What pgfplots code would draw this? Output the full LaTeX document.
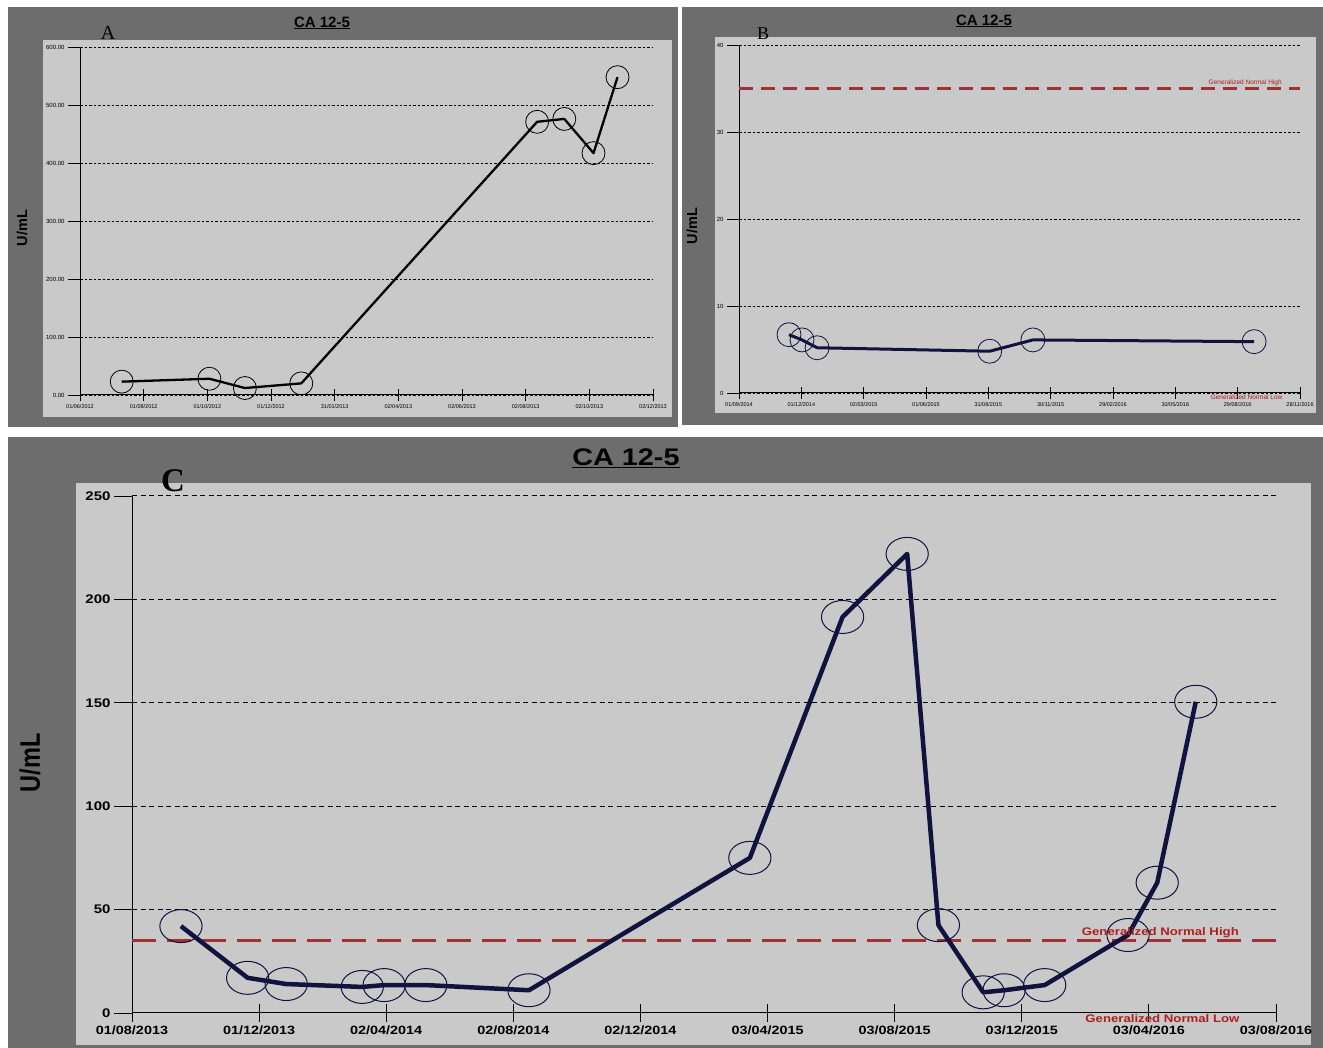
\documentclass[border=0pt]{standalone}
\usepackage{pgfplots}
\pgfplotsset{compat=1.18}
\usepackage{fontspec}
\setmainfont{Liberation Sans}
\newfontfamily\letterfont{Liberation Serif}
\newfontfamily\cfont[FakeStretch=1.2]{Liberation Sans}
\definecolor{frame}{HTML}{6D6D6D}
\definecolor{panel}{HTML}{C9C9C9}
\definecolor{navy}{HTML}{12123F}
\definecolor{redline}{HTML}{9E3232}
\definecolor{redtext}{HTML}{B01E1E}
\pgfplotsset{
  panelstyle/.style={
    scale only axis, anchor=south west,
    axis lines=left, axis line style={-, black, line width=1pt},
    ymajorgrids,
    xtick align=center, ytick align=outside,
    tick style={black, line width=0.8pt},
    /pgf/number format/assume math mode=true,
    clip=false,
  },
}
\begin{document}
\begin{tikzpicture}[x=1pt,y=1pt]
\useasboundingbox (0,0) rectangle (1323,1048);
\fill[white] (0,0) rectangle (1323,1048);
\fill[frame] (8,621) rectangle (678,1041);
\fill[panel] (43,631) rectangle (672,1008);
\fill[frame] (682,623) rectangle (1323,1041);
\fill[panel] (715,635) rectangle (1316,1011);
\fill[frame] (8,0) rectangle (1323,611);
\fill[panel] (76,3) rectangle (1311,565);

% titles and letters
\node[font=\bfseries\fontsize{15}{17}\selectfont] at (322,1025) {\underline{CA 12-5}};
\node[font=\bfseries\fontsize{15}{17}\selectfont] at (984,1027) {\underline{CA 12-5}};
\node[font=\cfont\bfseries\fontsize{24}{28}\selectfont] at (626,590) {\underline{CA 12-5}};
\node[font=\letterfont\fontsize{20}{22}\selectfont] at (108,1015) {A};
\node[font=\letterfont\fontsize{18}{20}\selectfont] at (763,1014) {B};
\node[font=\letterfont\bfseries\fontsize{33}{36}\selectfont] at (173,567) {C};
\node[rotate=90, font=\bfseries\fontsize{14.5}{16}\selectfont] at (22,820) {U/mL};
\node[rotate=90, font=\bfseries\fontsize{14.5}{16}\selectfont] at (692,822) {U/mL};
\node[xscale=1.2, rotate=90, font=\bfseries\fontsize{23.5}{26}\selectfont] at (30,285) {U/mL};

% ---------------- Panel A ----------------
\begin{axis}[panelstyle,
  at={(80pt,653pt)}, width=573pt, height=348pt,
  xmin=0, xmax=549, ymin=0, ymax=600,
  xtick={0,61,...,549},
  xticklabels={01/06/2012,01/08/2012,01/10/2012,01/12/2012,31/01/2013,02/04/2013,02/06/2013,02/08/2013,02/10/2013,02/12/2013},
  ytick={0,100,...,600},
  major tick length=12pt,
  major grid style={black, line width=0.7pt, dash pattern=on 2.5pt off 2pt},
  x tick label style={font=\fontsize{5.5}{6}\selectfont},
  y tick label style={/pgf/number format/.cd, fixed, fixed zerofill, precision=2, /tikz/.cd, font=\fontsize{6}{7}\selectfont},
]
\addplot[black, line width=2.3pt, line join=round,
  mark=o, mark size=11.5pt, mark options={solid, line width=0.8pt, black}]
  coordinates {(40,23) (124,28) (158,12) (212,20) (438,471) (464,476) (492,417) (515,548)};
\end{axis}

% ---------------- Panel B ----------------
\begin{axis}[panelstyle,
  at={(739pt,655pt)}, width=561pt, height=348pt,
  xmin=0, xmax=819, ymin=0, ymax=40,
  xtick={0,91,...,819},
  xticklabels={01/09/2014,01/12/2014,02/03/2015,01/06/2015,31/08/2015,30/11/2015,29/02/2016,30/05/2016,29/08/2016,28/11/2016},
  ytick={0,10,...,40},
  major tick length=12pt,
  major grid style={black, line width=0.7pt, dash pattern=on 2.5pt off 2pt},
  x tick label style={font=\fontsize{5.5}{6}\selectfont},
  y tick label style={font=\fontsize{6}{7}\selectfont},
]
\addplot[redline, line width=2.1pt, dash pattern=on 14pt off 8pt] coordinates {(0,35) (819,35)};
\addplot[navy, line width=3pt, line join=round,
  mark=o, mark size=12pt, mark options={solid, line width=0.8pt, navy}]
  coordinates {(73,6.7) (92,6.1) (114,5.2) (366,4.8) (429,6.1) (752,5.9)};
\node[redtext, font=\fontsize{6.5}{7}\selectfont, anchor=south, inner sep=1pt] at (axis cs:739,35.2) {Generalized Normal High};
\node[redtext, font=\fontsize{6.5}{7}\selectfont, inner sep=0pt] at (axis cs:741,-0.5) {Generalized Normal Low};
\end{axis}

% ---------------- Panel C ----------------
\begin{axis}[panelstyle,
  at={(132pt,35pt)}, width=1144pt, height=517pt,
  xmin=0, xmax=1098, ymin=0, ymax=250,
  xtick={0,122,...,1098},
  xticklabels={01/08/2013,01/12/2013,02/04/2014,02/08/2014,02/12/2014,03/04/2015,03/08/2015,03/12/2015,03/04/2016,03/08/2016},
  ytick={0,50,...,250},
  major tick length=18pt,
  major grid style={black, line width=1pt, dash pattern=on 5pt off 3.5pt},
  x tick label style={font=\cfont\bfseries\fontsize{12}{14}\selectfont},
  y tick label style={font=\cfont\bfseries\fontsize{12.5}{14}\selectfont},
]
\addplot[redline, line width=2.5pt, dash pattern=on 24pt off 11pt] coordinates {(0,35) (1098,35)};
\addplot[navy, line width=4.5pt, line join=round,
  mark=o, mark size=16.5pt, mark options={solid, line width=1pt, navy, xscale=1.28}]
  coordinates {(47,42) (111,17) (148,14) (221,12.6) (242,13.5) (282,13.5) (381,11) (593,75) (682,191.5) (744,222) (774,42.5) (817,10) (837,11) (876,13.5) (956,37.7) (984,63) (1021,150.5)};
\node[redtext, font=\cfont\bfseries\fontsize{11}{13}\selectfont] at (axis cs:987,38.7) {Generalized Normal High};
\node[redtext, font=\cfont\bfseries\fontsize{11}{13}\selectfont] at (axis cs:989,-2.9) {Generalized Normal Low};
\end{axis}
\end{tikzpicture}
\end{document}
